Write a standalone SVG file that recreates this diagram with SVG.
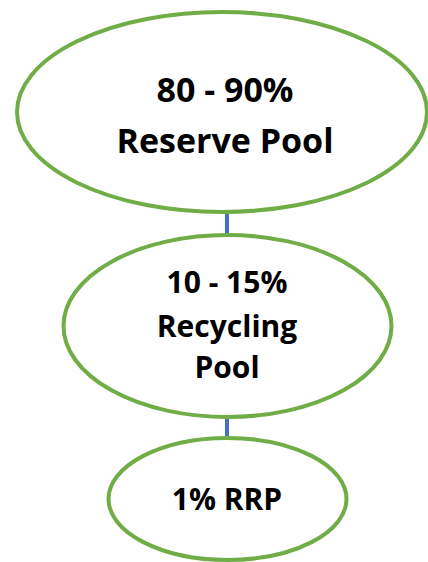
<svg xmlns="http://www.w3.org/2000/svg" width="428" height="562" viewBox="0 0 428 562">
<style>
.node{fill:#FFFFFF;stroke:#70AD47;stroke-width:4}
.conn{stroke:#4472C4;stroke-width:4;fill:none}
text{font-family:"Open Sans","Noto Sans","Liberation Sans",sans-serif;font-weight:bold;fill:#000000;text-anchor:middle}
.big{font-size:34px}
.mid{font-size:30px}
</style>
<rect width="428" height="562" fill="#FFFFFF"/>
<g id="connectors">
<line class="conn" x1="227" y1="212" x2="227" y2="236"/>
<line class="conn" x1="227" y1="416" x2="227" y2="439"/>
</g>
<g id="reserve">
<ellipse class="node" cx="222" cy="112" rx="205" ry="100"/>
<text class="big" x="225" y="102">80 - 90%</text>
<text class="big" x="225" y="153">Reserve Pool</text>
</g>
<g id="recycling">
<ellipse class="node" cx="227.5" cy="326" rx="164" ry="91"/>
<text class="mid" x="227" y="293">10 - 15%</text>
<text class="mid" x="227" y="337">Recycling</text>
<text class="mid" x="227" y="378">Pool</text>
</g>
<g id="rrp">
<ellipse class="node" cx="227.5" cy="499" rx="119" ry="61"/>
<text class="mid" x="227" y="510">1% RRP</text>
</g>
</svg>
